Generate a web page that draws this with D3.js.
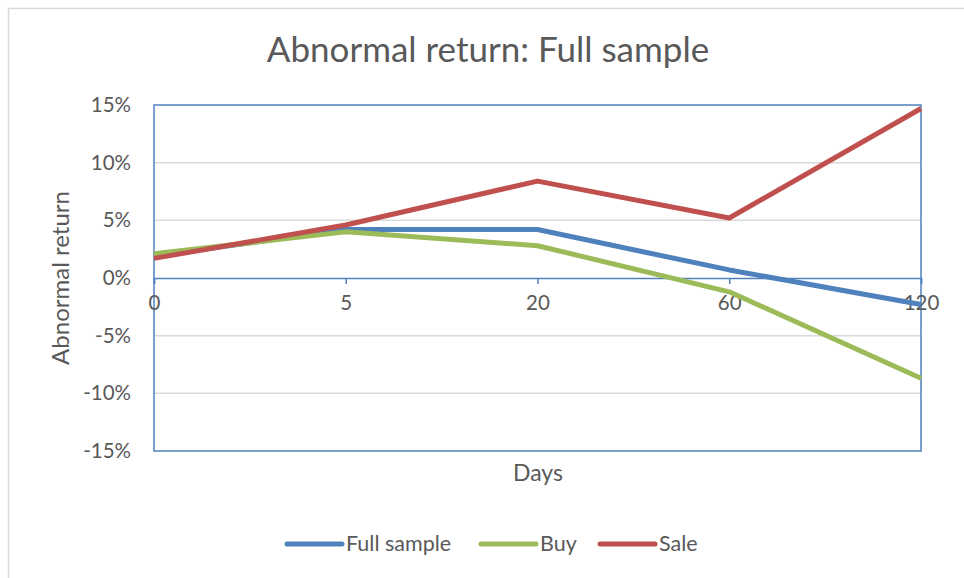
<!DOCTYPE html>
<html>
<head>
<meta charset="utf-8">
<script src="https://cdn.jsdelivr.net/npm/d3@7"></script>
<style>
  body { margin: 0; background: #fff; }
  text { font-family: Lato, "Open Sans", sans-serif; fill: #595959; }
</style>
</head>
<body>
<svg class="canvas" width="964" height="578"></svg>
<script>
// chart data
var days = ['0', '5', '20', '60', '120'];
var fullSample = [1.9, 4.2, 4.2, 0.7, -2.3];
var buy = [2.1, 4.0, 2.8, -1.2, -8.7];
var sale = [1.7, 4.6, 8.4, 5.2, 14.7];
var yTicks = [-15, -10, -5, 0, 5, 10, 15];

var seriesList = [
  { name: 'Full sample', values: fullSample, color: '#4f81bd' },
  { name: 'Buy', values: buy, color: '#9bbb59' },
  { name: 'Sale', values: sale, color: '#c0504d' }
];

var svg = d3.select('.canvas');

// outer chart border
svg.append('rect')
  .attr('x', 8.5).attr('y', 8.5)
  .attr('width', 980).attr('height', 600)
  .attr('fill', 'none')
  .attr('stroke', '#d9d9d9')
  .attr('stroke-width', 1.5);

var plot = { left: 154, right: 921, top: 105, bottom: 451 };

var x = d3.scalePoint()
  .domain(days)
  .range([plot.left, plot.right]);

var y = d3.scaleLinear()
  .domain([-15, 15])
  .range([plot.bottom, plot.top]);

// gridlines
svg.selectAll('.grid')
  .data(yTicks.filter(function(d) { return d !== 0 && Math.abs(d) !== 15; }))
  .enter().append('line')
  .attr('class', 'grid')
  .attr('x1', plot.left).attr('x2', plot.right)
  .attr('y1', function(d) { return y(d); })
  .attr('y2', function(d) { return y(d); })
  .attr('stroke', '#d9d9d9')
  .attr('stroke-width', 1.5);

// plot area border
svg.append('rect')
  .attr('x', plot.left).attr('y', plot.top)
  .attr('width', plot.right - plot.left)
  .attr('height', plot.bottom - plot.top)
  .attr('fill', 'none')
  .attr('stroke', '#4f81bd')
  .attr('stroke-width', 1.5);

// y axis labels
var yAxis = d3.axisLeft(y)
  .tickValues(yTicks)
  .tickSize(0)
  .tickPadding(23)
  .tickFormat(function(d) { return d + '%'; });

var yg = svg.append('g')
  .attr('transform', 'translate(' + plot.left + ',0)')
  .call(yAxis);
yg.select('.domain').remove();
yg.selectAll('text')
  .style('font-size', '20.5px')
  .attr('fill', '#595959');

// x axis on the zero line
var xAxis = d3.axisBottom(x)
  .tickSize(6)
  .tickPadding(11);

var xg = svg.append('g')
  .attr('transform', 'translate(0,' + y(0) + ')')
  .call(xAxis);
xg.select('.domain')
  .attr('stroke', '#4f81bd')
  .attr('stroke-width', 1.5);
xg.selectAll('.tick line')
  .attr('stroke', '#4f81bd')
  .attr('stroke-width', 1.5);
xg.selectAll('text')
  .style('font-size', '20.5px')
  .attr('fill', '#595959');

// series lines
var line = d3.line()
  .x(function(d, i) { return x(days[i]); })
  .y(function(d) { return y(d); });

svg.selectAll('.series')
  .data(seriesList)
  .enter().append('path')
  .attr('class', 'series')
  .attr('d', function(s) { return line(s.values); })
  .attr('fill', 'none')
  .attr('stroke', function(s) { return s.color; })
  .attr('stroke-width', 5)
  .attr('stroke-linejoin', 'round');

// title + axis titles
svg.append('text')
  .attr('x', 488).attr('y', 62)
  .attr('text-anchor', 'middle')
  .style('font-size', '35px')
  .text('Abnormal return: Full sample');

svg.append('text')
  .attr('x', 538).attr('y', 481)
  .attr('text-anchor', 'middle')
  .style('font-size', '23px')
  .text('Days');

svg.append('text')
  .attr('transform', 'translate(69,' + (plot.top + plot.bottom) / 2 + ') rotate(-90)')
  .attr('text-anchor', 'middle')
  .style('font-size', '24px')
  .text('Abnormal return');

// legend
var legendX = [287, 481, 600];
var legend = svg.selectAll('.legend')
  .data(seriesList)
  .enter().append('g')
  .attr('class', 'legend')
  .attr('transform', function(d, i) { return 'translate(' + legendX[i] + ',544)'; });

legend.append('line')
  .attr('x1', 0).attr('x2', 55)
  .attr('stroke', function(d) { return d.color; })
  .attr('stroke-width', 5)
  .attr('stroke-linecap', 'round');

legend.append('text')
  .attr('x', 59).attr('y', 7)
  .style('font-size', '21.5px')
  .text(function(d) { return d.name; });
</script>
</body>
</html>
